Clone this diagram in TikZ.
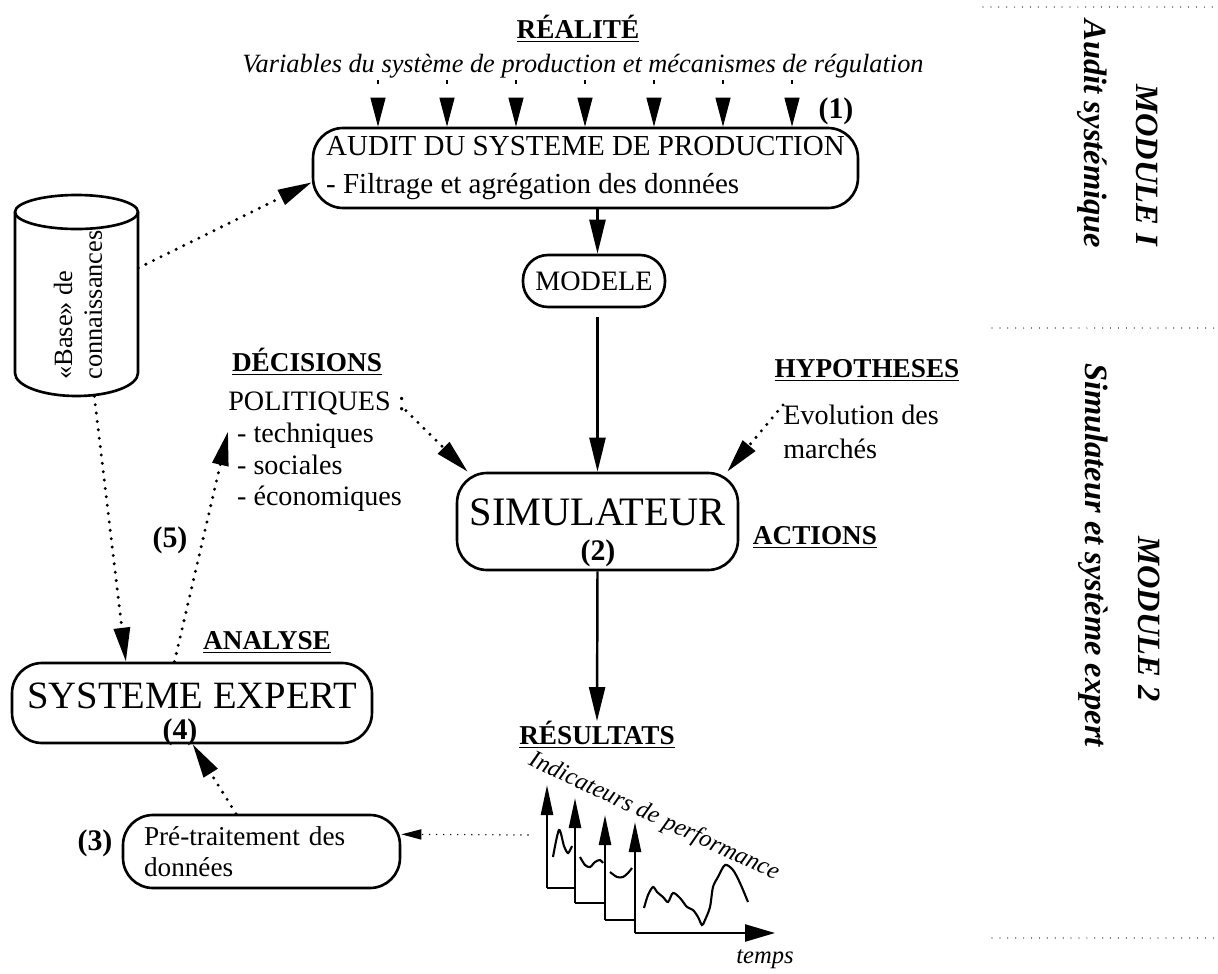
\documentclass[tikz,border=0pt]{standalone}
\usepackage{fontspec}
\setmainfont{Liberation Serif}
\usetikzlibrary{arrows.meta,positioning,calc}

\begin{document}
\begin{tikzpicture}[
  x=0.02cm, y=-0.02cm,
  pbox/.style={draw, line width=1.5pt, rounded corners=0.6cm, inner sep=0pt},
  hd/.style={font=\fontsize{15.5}{18}\selectfont\bfseries, inner sep=0pt},
  num/.style={font=\fontsize{17}{20}\selectfont\bfseries, inner sep=0pt},
  modf/.style={font=\fontsize{18.5}{22}\selectfont\bfseries\itshape, inner sep=0pt, rotate=-90},
  arr/.style={-{Triangle[length=0.68cm,width=0.32cm]}, line width=1.4pt},
  darr/.style={arr, line width=1.9pt, dash pattern=on 0pt off 4.8pt, line cap=round},
  sdarr/.style={-{Triangle[length=0.4cm,width=0.2cm]}, line width=0.9pt, dash pattern=on 0pt off 4pt, line cap=round},
  varr/.style={-{Triangle[length=0.58cm,width=0.3cm]}, line width=0.6pt, dash pattern=on 2pt off 20pt},
  axarr/.style={-{Triangle[length=0.6cm,width=0.24cm]}, line width=1.4pt},
  sepline/.style={line width=0.7pt, dash pattern=on 0pt off 4.5pt, line cap=round}]
\useasboundingbox (0,0) rectangle (1218,974);

% module 1 : audit
\node[hd] (real) at (578,29) {\underline{RÉALITÉ}};
\node[font=\fontsize{15}{18}\selectfont\itshape, inner sep=1pt] (vars) at (583,66)
  {Variables du système de production et mécanismes de régulation};
\node[pbox, minimum width=10.9cm, minimum height=1.6cm, align=left,
  font=\fontsize{16.5}{21.6}\selectfont] (audit) at (585.5,168)
  {AUDIT DU SYSTEME DE PRODUCTION\\- Filtrage et agrégation des données};
\node[num] (n1) at (836,111) {(1)};
\node[pbox, rounded corners=0.5cm, minimum width=2.84cm, minimum height=1.04cm,
  font=\fontsize{16}{19}\selectfont] (modele) at (594,281) {MODELE};

% base de connaissances
\node[minimum width=2.46cm, minimum height=4.02cm, inner sep=0pt] (base) at (76.5,295.5) {};
\draw[line width=1.5pt] (76.5,212) ellipse [x radius=61.5, y radius=17];
\draw[line width=1.5pt] (15,212) -- (15,373) arc[start angle=180, end angle=0, x radius=61.5, y radius=23] -- (138,212);
\node[rotate=90, anchor=west, align=left, inner sep=0pt,
  font=\fontsize{15}{17}\selectfont] (basetxt) at (78,380) {«Base» de\\connaissances};

% module 2 : simulateur
\node[hd] (dec) at (307,362) {\underline{DÉCISIONS}};
\node[anchor=north west, align=left, inner sep=0pt, font=\fontsize{16}{18}\selectfont] (polit) at (228,392)
  {POLITIQUES :\\\hspace{5pt}- techniques\\\hspace{5pt}- sociales\\\hspace{5pt}- économiques};
\node[hd] (hyp) at (867,370) {\underline{HYPOTHESES}};
\node[anchor=north west, align=left, inner sep=0pt, font=\fontsize{16}{19}\selectfont] (evol) at (783,405)
  {Evolution des\\marchés};
\node[pbox, minimum width=5.62cm, minimum height=1.94cm, font=\fontsize{23}{27}\selectfont,
  text height=15pt, text depth=10pt] (sim) at (597.5,521.5) {SIMULATEUR};
\node[num] (n2) at (598,553) {(2)};
\node[hd] (act) at (815,537) {\underline{ACTIONS}};
\node[hd] (res) at (597,735) {\underline{RÉSULTATS}};

% systeme expert
\node[num] (n5) at (170,540) {(5)};
\node[hd] (ana) at (267,642) {\underline{ANALYSE}};
\node[pbox, minimum width=7.2cm, minimum height=1.6cm, font=\fontsize{22}{26}\selectfont,
  text height=14pt, text depth=8pt] (sexp) at (192,703) {SYSTEME EXPERT};
\node[num] (n4) at (180,732) {(4)};
\node[pbox, minimum width=5.54cm, minimum height=1.46cm, text width=4.7cm, align=left,
  font=\fontsize{15.5}{17.6}\selectfont] (pre) at (261.5,851.5) {Pré-traitement des\\données};
\node[num] (n3) at (95,843) {(3)};

% indicateurs
\foreach \xa/\xb/\yb/\yt in {547/575/888/785, 575/605/903/798, 605/635/920/815}{
  \draw[axarr] (\xa,\yb) -- (\xa,\yt);
  \draw[line width=1.4pt] (\xa,\yb) -- (\xb,\yb);
}
\draw[axarr] (635,933) -- (635,822);
\draw[-{Triangle[length=0.6cm,width=0.34cm]}, line width=1.4pt] (635,933) -- (775,933);
\draw[line width=1.2pt] plot[smooth] coordinates {(553,857) (559,830) (564,846) (568,853) (572,846)};
\draw[line width=1.2pt] plot[smooth] coordinates {(580,857) (585,865) (590,867) (595,862) (600,860) (603,863)};
\draw[line width=1.2pt] plot[smooth] coordinates {(610,872) (617,877) (623,877) (628,873) (632,868)};
\draw[line width=1.2pt] plot[smooth] coordinates {(644,908) (648,895) (653,887) (657,892) (663,897) (668,902)
  (673,893) (680,898) (687,907) (693,910) (698,917) (702,925) (705,920) (710,907) (713,887) (718,877)
  (725,865) (733,870) (740,883) (748,902)};
\node[rotate=-25, font=\fontsize{14}{17}\selectfont\itshape, inner sep=0pt] (ind) at (654,817) {Indicateurs de performance};
\node[font=\fontsize{14}{17}\selectfont\itshape, inner sep=0pt] (temps) at (765,959) {temps};
\coordinate (chartin) at (528,835);

% modules
\draw[sepline] (983,7) -- (1218,7);
\draw[sepline] (992,328) -- (1218,328);
\draw[sepline] (992,938) -- (1218,938);
\node[modf] (mod1) at (1147,165) {MODULE I};
\node[modf] (mod1t) at (1092,134) {Audit systémique};
\node[modf] (mod2) at (1149,619) {MODULE 2};
\node[modf] (mod2t) at (1093,555) {Simulateur et système expert};

% connecteurs
\foreach \x in {378,447,516,585,654,723,792}
  \draw[varr] (\x,0 |- vars.south) -- (\x,0 |- audit.north);
\draw[arr] (audit.south -| sim.north) -- (modele.north -| sim.north);
\draw[arr, shorten <=0.18cm] (modele.south -| sim.north) -- (sim.north);
\draw[arr] (sim.south) -- (res.north);
\draw[darr] (base.24) -- (audit.183);
\draw[darr] (base.-80) -- (sexp.148);
\draw[darr] (sexp.113) -- (polit.167);
\draw[darr] (polit.25) -- (sim.159);
\draw[darr] (evol.north west) -- (sim.21);
\draw[darr] (pre.124) -- (sexp.-89);
\draw[sdarr] (chartin) -- (pre.7);
\end{tikzpicture}
\end{document}
